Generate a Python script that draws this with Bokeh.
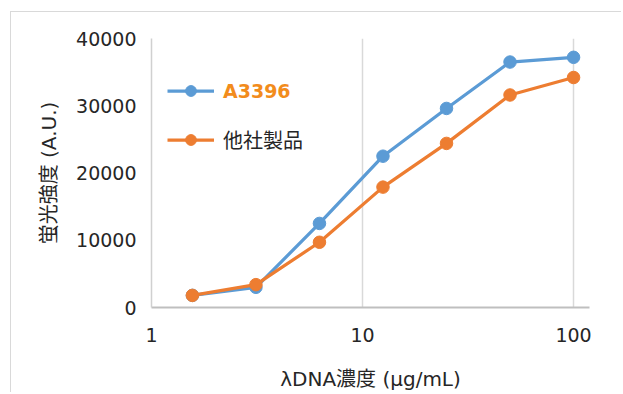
from bokeh.plotting import figure
from bokeh.models import (Range1d, FixedTicker, PrintfTickFormatter, Legend, LegendItem,
                          ColumnDataSource)
from bokeh.embed import file_html
from bokeh.resources import INLINE

# ---- data ----
concentration = [1.5625, 3.125, 6.25, 12.5, 25, 50, 100]
a3396 = [1800, 3000, 12500, 22500, 29600, 36500, 37200]
other = [1800, 3400, 9700, 17900, 24400, 31600, 34200]
series_names = ["A3396", "他社製品"]
x_ticks = [1, 10, 100]
y_ticks = [0, 10000, 20000, 30000, 40000]
x_label = "λDNA濃度 (μg/mL)"
y_label = "蛍光強度 (A.U.)"

FONT = "'DejaVu Sans', 'Noto Sans CJK JP'"
TXT = "#262626"
BLUE = "#5B9BD5"
ORANGE = "#ED7D31"

p = figure(width=611, height=381, x_axis_type="log",
           x_range=Range1d(1, 119), y_range=Range1d(0, 40000),
           output_backend="svg", toolbar_location=None,
           min_border_left=140, min_border_right=33,
           min_border_top=26, min_border_bottom=83)
p.styles = {"border-left": "1.5px solid #d9d9d9", "border-top": "1.5px solid #d9d9d9",
            "margin-left": "10px", "margin-top": "11px"}
p.background_fill_color = "white"
p.border_fill_color = "white"
p.outline_line_color = None

src = ColumnDataSource(dict(x=concentration, a=a3396, o=other))

l1 = p.line("x", "a", source=src, line_color=BLUE, line_width=3.25)
s1 = p.scatter("x", "a", source=src, size=12.5, fill_color=BLUE, line_color=BLUE)
l2 = p.line("x", "o", source=src, line_color=ORANGE, line_width=3.25)
s2 = p.scatter("x", "o", source=src, size=12.5, fill_color=ORANGE, line_color=ORANGE)

# axes
p.xaxis.ticker = FixedTicker(ticks=x_ticks, minor_ticks=[])
p.xaxis.formatter = PrintfTickFormatter(format="%d")
p.yaxis.ticker = FixedTicker(ticks=y_ticks, minor_ticks=[])
p.yaxis.formatter = PrintfTickFormatter(format="%d")
for ax in (p.xaxis, p.yaxis):
    ax.major_tick_out = 0
    ax.major_tick_in = 0
    ax.minor_tick_out = 0
    ax.minor_tick_in = 0
    ax.major_label_text_font = FONT
    ax.major_label_text_font_size = "19px"
    ax.major_label_text_color = TXT
    ax.axis_label_text_font = FONT
    ax.axis_label_text_font_size = "20px"
    ax.axis_label_text_font_style = "normal"
    ax.axis_label_text_color = TXT
p.xaxis.axis_label = x_label
p.yaxis.axis_label = y_label
p.xaxis.axis_line_color = "#bfbfbf"
p.xaxis.axis_line_width = 2
p.yaxis.axis_line_color = "#d0d0d0"
p.yaxis.axis_line_width = 1.5
p.xaxis.major_label_standoff = 20
p.xaxis.axis_label_standoff = 22
p.yaxis.major_label_standoff = 15
p.yaxis.axis_label_standoff = 12

p.xgrid.ticker = FixedTicker(ticks=x_ticks[1:])
p.xgrid.grid_line_color = "#d9d9d9"
p.xgrid.grid_line_width = 1.5
p.ygrid.grid_line_color = None

# legends (two, to style labels separately)
def make_legend(label, renderers, vy, color, style, size):
    return Legend(items=[LegendItem(label=label, renderers=renderers)],
                  location=(16, vy), padding=0, margin=0, spacing=0,
                  glyph_width=47, glyph_height=27, label_height=27,
                  label_standoff=9, border_line_color=None,
                  background_fill_alpha=0,
                  label_text_font=FONT, label_text_font_size=size,
                  label_text_color=color, label_text_font_style=style)

p.add_layout(make_legend(series_names[0], [l1, s1], 203, "#F28C1C", "bold", "19px"))
p.add_layout(make_legend(series_names[1], [l2, s2], 153, TXT, "normal", "20px"))

open("out.html", "w").write(file_html(p, INLINE))
